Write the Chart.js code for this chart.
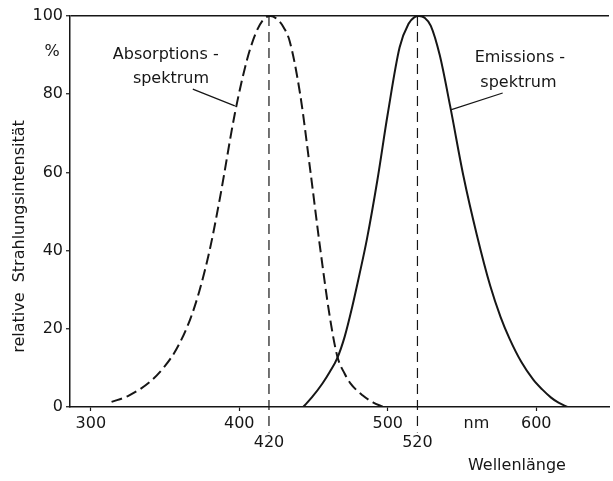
<!DOCTYPE html>
<html>
<head>
<meta charset="utf-8">
<script src="https://cdn.jsdelivr.net/npm/chart.js@4.4.0/dist/chart.umd.min.js"></script>
<style>
  html, body { margin: 0; padding: 0; background: #fff; }
  #wrap { width: 613px; height: 481px; }
</style>
</head>
<body>
<div id="wrap"><canvas id="spektrumChart"></canvas></div>
<script>
// Absorptionsspektrum (gestrichelt)
const absWellenlaenge = [314, 325, 340, 350, 358, 367, 373, 380, 387, 397, 405, 411, 416, 421, 426, 430, 434, 441, 448, 454, 461, 466, 471, 475, 483, 490, 497];
const absIntensitaet  = [1.3, 2.8, 6.5, 10.5, 15, 22.5, 29.5, 40, 53.5, 75, 88.5, 95.5, 99, 100, 99, 97, 93.5, 80, 60, 42, 23, 13, 8.5, 6, 3, 1.2, 0];

// Emissionsspektrum (durchgezogen)
const emWellenlaenge = [443, 449, 456, 461, 466, 471, 476, 481, 486, 493, 500, 508, 514, 518, 521, 525, 529, 535, 542, 551, 560, 569, 576, 582, 590, 598, 604, 610, 615, 621];
const emIntensitaet  = [0, 2.5, 6, 9, 12.5, 18, 25.5, 34, 43, 58, 75, 92, 98, 99.7, 100, 99.5, 97.5, 90, 77, 59, 44, 31, 23, 17.5, 11.5, 7, 4.5, 2.4, 1.1, 0];

// Maxima (gestrichelte Senkrechte)
const maxima = [420, 520];

// Achsenbeschriftung
const xTicks = [300, 400, 420, 500, 520, 600];
const yTicks = [0, 20, 40, 60, 80, 100];

const SCHWARZ = '#161616';
Chart.defaults.font.family = '"DejaVu Sans", sans-serif';
Chart.defaults.font.size = 16;
Chart.defaults.color = SCHWARZ;

const toPoints = (xs, ys) => xs.map((x, i) => ({ x: x, y: ys[i] }));

// Texte, Hinweislinien, y-Titel
const beschriftung = {
    id: 'beschriftung',
    afterDraw(chart) {
        const { ctx, scales: { x, y } } = chart;
        const px = v => x.getPixelForValue(v);
        const py = v => y.getPixelForValue(v);
        ctx.save();
        ctx.fillStyle = SCHWARZ;
        ctx.strokeStyle = SCHWARZ;
        ctx.font = '16px "DejaVu Sans"';
        ctx.textAlign = 'center';
        ctx.textBaseline = 'middle';

        ctx.fillText('Absorptions -', px(350.5), py(90));
        ctx.fillText('spektrum', px(354), py(83.9));
        ctx.fillText('Emissions -', px(589), py(89.3));
        ctx.fillText('spektrum', px(588), py(82.9));

        ctx.lineWidth = 1.2;
        ctx.beginPath();
        ctx.moveTo(px(368.7), py(81.3));
        ctx.lineTo(px(397), py(77));
        ctx.moveTo(px(577.4), py(80.3));
        ctx.lineTo(px(542.4), py(76));
        ctx.stroke();

        ctx.fillText('%', x.left - 18, py(90.8));
        ctx.fillText('nm', px(559.7), py(0) + 17);
        ctx.fillText('Wellenlänge', px(587), py(0) + 59);

        // y-Titel
        ctx.translate(20, (y.top + y.bottom) / 2 + 25);
        ctx.rotate(-Math.PI / 2);
        ctx.fillText('relative  Strahlungsintensität', 0, 0);
        ctx.restore();
    }
};

const datasets = [
    {
        label: 'Absorptionsspektrum',
        data: toPoints(absWellenlaenge, absIntensitaet),
        borderColor: SCHWARZ,
        borderWidth: 2,
        borderDash: [11, 5],
        pointRadius: 0,
        showLine: true,
        cubicInterpolationMode: 'monotone'
    },
    {
        label: 'Emissionsspektrum',
        data: toPoints(emWellenlaenge, emIntensitaet),
        borderColor: SCHWARZ,
        borderWidth: 2,
        pointRadius: 0,
        showLine: true,
        cubicInterpolationMode: 'monotone'
    }
];

// Senkrechte an den Maxima, bis unter die Achse
maxima.forEach(m => {
    datasets.push({
        label: 'Maximum ' + m,
        data: [{ x: m, y: 100 }, { x: m, y: -6.5 }],
        borderColor: SCHWARZ,
        borderWidth: 1.2,
        borderDash: [10, 6],
        pointRadius: 0,
        showLine: true,
        clip: false
    });
});

new Chart(document.getElementById('spektrumChart'), {
    type: 'scatter',
    data: { datasets: datasets },
    options: {
        responsive: true,
        maintainAspectRatio: false,
        animation: false,
        layout: { padding: { top: 16, right: 4, left: 0, bottom: 0 } },
        plugins: {
            legend: { display: false },
            tooltip: { enabled: false }
        },
        scales: {
            x: {
                type: 'linear',
                min: 286,
                max: 649,
                afterBuildTicks: scale => {
                    scale.ticks = xTicks.map(v => ({ value: v }));
                },
                afterFit: scale => { scale.height = 74; },
                ticks: {
                    autoSkip: false,
                    maxRotation: 0,
                    padding: 3,
                    callback: v => (maxima.includes(v) ? ['', String(v)] : String(v))
                },
                grid: {
                    drawOnChartArea: false,
                    drawTicks: true,
                    tickLength: 4,
                    tickWidth: 1.2,
                    tickColor: c => (c.tick && maxima.includes(c.tick.value) ? 'rgba(0,0,0,0)' : SCHWARZ)
                },
                border: { display: true, color: SCHWARZ, width: 1.5 }
            },
            y: {
                min: 0,
                max: 100,
                afterBuildTicks: scale => {
                    scale.ticks = yTicks.map(v => ({ value: v }));
                },
                afterFit: scale => { scale.width = 70; },
                ticks: { padding: 3 },
                grid: {
                    drawOnChartArea: true,
                    drawTicks: true,
                    tickLength: 4,
                    tickWidth: 1.2,
                    tickColor: SCHWARZ,
                    lineWidth: 1.5,
                    color: c => (c.tick && c.tick.value === 100 ? SCHWARZ : 'rgba(0,0,0,0)')
                },
                border: { display: true, color: SCHWARZ, width: 1.5 }
            }
        }
    },
    plugins: [beschriftung]
});
</script>
</body>
</html>
